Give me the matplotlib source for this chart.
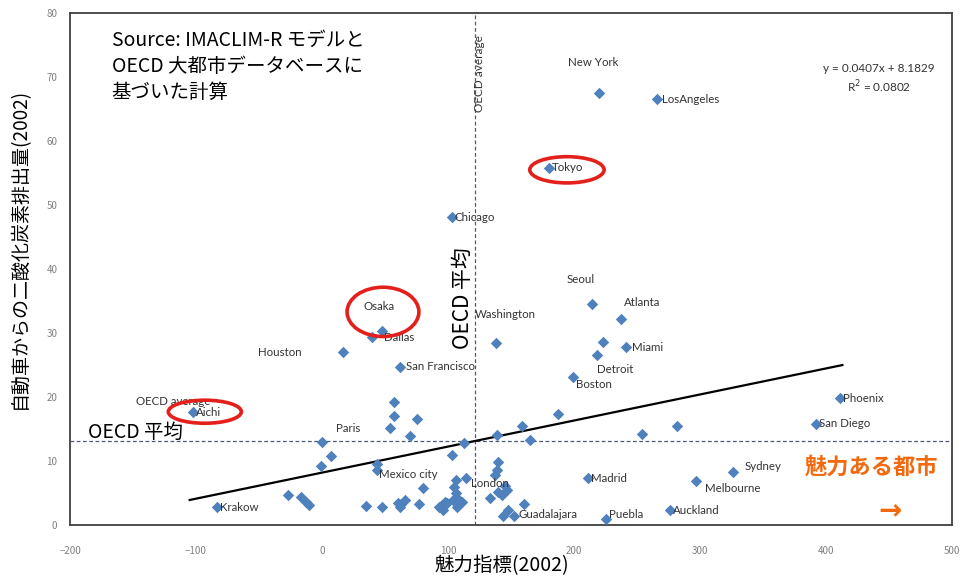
import matplotlib
matplotlib.use('Agg')
import matplotlib.pyplot as plt
from matplotlib.patches import Ellipse

plt.rcParams['font.family'] = ['Noto Sans CJK JP', 'DejaVu Sans']

# labelled cities: name, attractiveness index, CO2 from cars
city_names = ['New York', 'LosAngeles', 'Tokyo', 'Chicago', 'Seoul', 'Atlanta',
              'Washington', 'Miami', 'Detroit', 'Boston', 'Houston', 'Osaka',
              'Dallas', 'San Francisco', 'Aichi', 'Paris', 'Mexico city',
              'London', 'Madrid', 'Guadalajara', 'Puebla', 'Auckland',
              'Melbourne', 'Sydney', 'Phoenix', 'San Diego', 'Krakow']
city_x = [220, 266, 180, 103, 214, 237, 138, 241, 218, 199, 17, 48, 40, 62,
          -102, 0, 44, 114, 211, 152, 225, 276, 297, 326, 411, 392, -83]
city_y = [67.5, 66.5, 55.8, 48.1, 34.5, 32.2, 28.4, 27.8, 26.6, 23.1, 27.0,
          30.3, 29.4, 24.7, 17.7, 13.0, 8.6, 7.3, 7.3, 1.4, 0.9, 2.3, 6.9,
          8.3, 19.8, 15.8, 2.8]

# unlabelled cities
other_x = [57, 57, 54, 75, 70, 7, -1, 44, 113, 103, 106, 105, 106, 80, -27,
           -17, -13, -10, 35, 48, 60, 63, 66, 62, 77, 93, 96, 99, 95, 107,
           107, 104, 111, 187, 159, 139, 165, 140, 139, 137, 145, 147, 143,
           140, 133, 98, 160, 148, 144, 223, 254, 282]
other_y = [19.2, 17.0, 15.2, 16.6, 13.9, 10.8, 9.2, 9.5, 12.8, 10.9, 7.0, 6.0,
           5.0, 5.8, 4.7, 4.4, 3.6, 3.1, 3.0, 2.8, 3.4, 3.3, 3.9, 2.8, 3.3,
           2.8, 2.3, 3.4, 3.1, 2.8, 4.2, 3.9, 3.6, 17.3, 15.5, 14.0, 13.3, 9.8,
           8.6, 7.8, 6.1, 5.5, 4.7, 5.2, 4.2, 3.6, 3.3, 2.3, 1.4, 28.6, 14.2,
           15.5]

# OECD averages and linear fit
oecd_x = 121.4
oecd_y = 13.1
slope = 0.0407
intercept = 8.1829
fit_range = [-105, 413]

# label offsets in pixels (dx, dy, ha)
offsets = {
    'New York': (-6, 30, 'center'), 'LosAngeles': (5, 0, 'left'),
    'Tokyo': (3, 0, 'left'), 'Chicago': (3, 0, 'left'),
    'Seoul': (-11, 25, 'center'), 'Atlanta': (3, 16, 'left'),
    'Washington': (-21, 29, 'left'), 'Miami': (6, 0, 'left'),
    'Detroit': (0, -15, 'left'), 'Boston': (3, -7, 'left'),
    'Houston': (-64, 0, 'center'), 'Osaka': (-3, 25, 'center'),
    'Dallas': (12, -1, 'left'), 'San Francisco': (6, 0, 'left'),
    'Aichi': (2, -1, 'left'), 'Paris': (26, 13, 'center'),
    'Mexico city': (2, -5, 'left'), 'London': (5, -5, 'left'),
    'Madrid': (3, 0, 'left'), 'Guadalajara': (5, 2, 'left'),
    'Puebla': (3, 5, 'left'), 'Auckland': (3, 0, 'left'),
    'Melbourne': (9, -8, 'left'), 'Sydney': (12, 5, 'left'),
    'Phoenix': (3, 0, 'left'), 'San Diego': (3, 0, 'left'),
    'Krakow': (3, 0, 'left'),
}

blue = '#4f81bd'
orange = '#f26a10'
red = '#e3201b'
label_font = ['Lato', 'DejaVu Sans']

fig = plt.figure(figsize=(9.68, 5.77), dpi=100)
ax = fig.add_axes([70/968, 52/577, 882/968, 512/577])

ax.axhline(oecd_y, color='#4a5a78', ls=(0, (3, 2)), lw=0.9, zorder=1)
ax.axvline(oecd_x, color='#4a5a78', ls=(0, (3, 2)), lw=0.9, zorder=1)

ax.scatter(other_x, other_y, marker='D', s=34, color=blue, zorder=3, linewidths=0)
ax.scatter(city_x, city_y, marker='D', s=34, color=blue, zorder=3, linewidths=0)

fx = fit_range
ax.plot(fx, [slope * v + intercept for v in fx], color='black', lw=1.6, zorder=2)

for name, x, y in zip(city_names, city_x, city_y):
    dx, dy, ha = offsets[name]
    ax.annotate(name, (x, y), xytext=(dx, dy), textcoords='offset pixels',
                ha=ha, va='center', fontsize=8.3, color='#333333',
                family=label_font, zorder=4)

ax.annotate('OECD average', (city_x[14], city_y[14]), xytext=(-57, 10),
            textcoords='offset pixels', ha='left', va='center', fontsize=8.3,
            color='#333333', family=label_font, zorder=4)

# red circles
for cx, cy, w, h in [(194.4, 55.5, 59, 4.1), (48.4, 33.3, 57, 7.7), (-93, 17.7, 58, 3.6)]:
    ax.add_patch(Ellipse((cx, cy), w, h, fill=False, ec=red, lw=2.6, zorder=5))

ax.text(-167, 77.3, 'Source: IMACLIM-R モデルと\nOECD 大都市データベースに\n基づいた計算',
        fontsize=14, va='top', ha='left', linespacing=1.3)
ax.text(442, 69.7, 'y = 0.0407x + 8.1829\nR$^2$ = 0.0802', fontsize=8.5,
        ha='center', va='center', color='#333333', linespacing=1.3,
        family=label_font)
ax.text(-186, oecd_y + 1.3, 'OECD 平均', fontsize=14, ha='left', va='center')
ax.text(112, 35.5, 'OECD 平均', fontsize=15, rotation=90, ha='center', va='center')
ax.text(125, 70.5, 'OECD average', fontsize=8.5, rotation=90, ha='center',
        va='center', color='#333333', family=label_font)
ax.text(436, 9, '魅力ある都市', fontsize=16, color=orange, fontweight='bold',
        ha='center', va='center')
ax.text(451, 2.2, '→', fontsize=20, color=orange, fontweight='bold',
        ha='center', va='center', family=['DejaVu Sans'])

ax.set_xlim(-200, 500)
ax.set_ylim(0, 80)
ax.set_xticks(range(-200, 501, 100))
ax.set_yticks(range(0, 81, 10))
ax.tick_params(length=0, labelsize=7, labelcolor='#808080')
ax.tick_params(axis='x', pad=15)
ax.tick_params(axis='y', pad=9)
for sp in ax.spines.values():
    sp.set_color('#404040')
    sp.set_linewidth(1.3)

fig.text(502/968, 1 - 566/577, '魅力指標(2002)', fontsize=14, ha='center', va='center')
fig.text(20/968, 1 - 248/577, '自動車からの二酸化炭素排出量(2002)', fontsize=13.7,
         rotation=90, ha='center', va='center')

fig.savefig('out.png', dpi=100)
